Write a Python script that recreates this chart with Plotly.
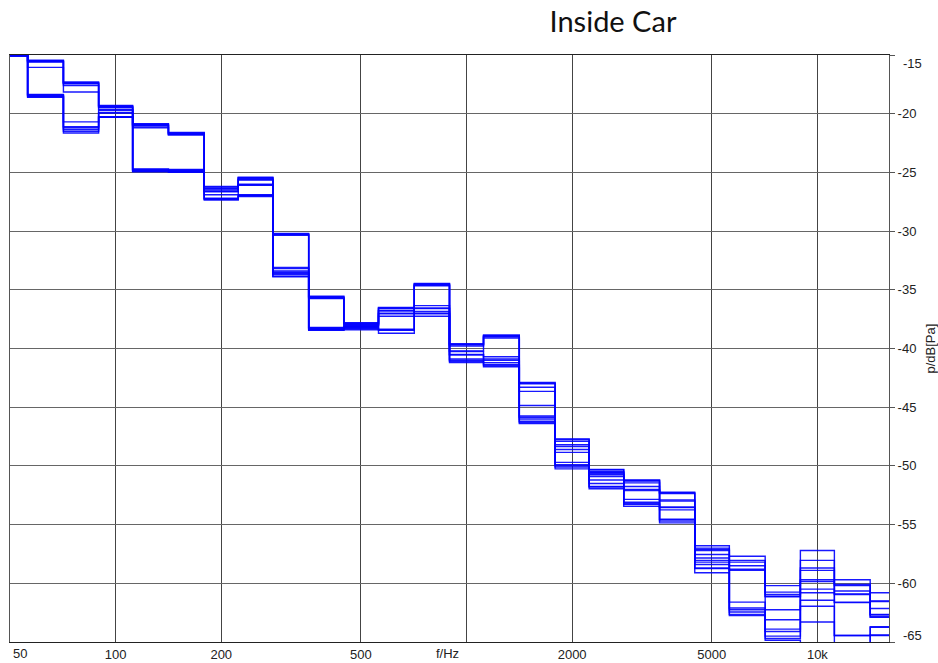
import numpy as np
import plotly.graph_objects as go

# 1/3-octave band centre frequencies (Hz)
bands = [50, 63, 80, 100, 125, 160, 200, 250, 315, 400, 500, 630, 800,
         1000, 1250, 1600, 2000, 2500, 3150, 4000, 5000, 6300, 8000,
         10000, 12500, 16000]

# Band levels in dB re 1 Pa, one value per measurement run (12 runs)
band_50 = [-15.05] * 12
band_63 = [-15.45, -15.5, -15.5, -15.55, -15.6, -16.05, -18.35, -18.4, -18.45, -18.5, -18.55, -18.6]
band_80 = [-17.3, -17.35, -17.4, -17.45, -17.6, -18.15, -20.7, -21.1, -21.2, -21.35, -21.5, -21.65]
band_100 = [-19.3, -19.35, -19.4, -19.45, -19.5, -19.65, -19.7, -19.9, -19.95, -20.25, -20.3, -20.3]
band_125 = [-20.85, -20.9, -20.95, -21.0, -21.05, -21.2, -24.7, -24.75, -24.8, -24.85, -24.9, -24.95]
band_160 = [-21.6, -21.65, -21.7, -21.75, -21.8, -21.8, -24.75, -24.8, -24.85, -24.9, -24.95, -25.0]
band_200 = [-26.2, -26.25, -26.35, -26.4, -26.5, -26.6, -26.65, -26.9, -27.2, -27.25, -27.3, -27.35]
band_250 = [-25.4, -25.45, -25.5, -25.6, -25.65, -26.0, -26.05, -26.1, -26.9, -26.95, -27.0, -27.05]
band_315 = [-30.2, -30.25, -30.3, -30.35, -33.1, -33.2, -33.4, -33.5, -33.6, -33.7, -33.85, -33.9]
band_400 = [-35.55, -35.6, -35.65, -35.7, -35.75, -38.2, -38.25, -38.3, -38.35, -38.4, -38.4, -38.45]
band_500 = [-37.8, -37.85, -37.9, -37.95, -38.0, -38.05, -38.1, -38.15, -38.2, -38.25, -38.3, -38.4]
band_630 = [-36.5, -36.55, -36.6, -36.75, -36.8, -37.0, -37.05, -37.25, -38.35, -38.4, -38.45, -38.7]
band_800 = [-34.45, -34.5, -34.55, -34.6, -34.65, -36.35, -36.55, -36.6, -36.85, -37.0, -37.05, -37.25]
band_1000 = [-39.6, -39.65, -39.7, -39.8, -40.2, -40.25, -40.5, -40.55, -40.9, -41.0, -41.1, -41.2]
band_1250 = [-38.85, -38.9, -38.95, -39.0, -39.1, -40.7, -40.9, -41.0, -41.2, -41.35, -41.45, -41.55]
band_1600 = [-42.9, -42.95, -43.0, -43.3, -43.65, -44.85, -45.75, -45.85, -46.0, -46.2, -46.3, -46.4]
band_2000 = [-47.7, -47.75, -47.9, -48.2, -48.35, -48.6, -48.85, -49.7, -49.9, -50.0, -50.1, -50.25]
band_2500 = [-50.3, -50.35, -50.5, -50.55, -50.65, -50.75, -50.9, -51.2, -51.5, -51.75, -51.8, -51.95]
band_3150 = [-51.2, -51.25, -51.3, -51.45, -51.75, -52.0, -52.1, -52.85, -53.1, -53.2, -53.3, -53.45]
band_4000 = [-52.25, -52.3, -52.35, -52.9, -53.0, -53.5, -53.55, -53.75, -54.55, -54.6, -54.7, -54.85]
band_5000 = [-56.8, -57.0, -57.1, -57.2, -57.55, -57.85, -58.05, -58.2, -58.4, -58.7, -58.75, -59.1]
band_6300 = [-57.7, -58.05, -58.2, -58.5, -58.8, -58.9, -61.6, -62.1, -62.25, -62.45, -62.65, -62.75]
band_8000 = [-60.2, -60.75, -60.95, -61.1, -61.15, -62.25, -63.1, -63.9, -64.1, -64.5, -64.7, -64.85]
band_10000 = [-57.2, -58.05, -58.7, -58.9, -59.7, -59.85, -60.5, -60.8, -61.45, -61.95, -63.3, -65.8]
band_12500 = [-59.7, -60.1, -60.2, -60.65, -60.9, -60.95, -61.6, -61.65, -64.45, -64.45, -65.6, -65.9]
band_16000 = [-60.8, -61.5, -61.55, -62.15, -62.65, -62.7, -62.85, -62.9, -63.7, -63.75, -64.4, -64.45]

band_levels = [band_50, band_63, band_80, band_100, band_125, band_160, band_200,
               band_250, band_315, band_400, band_500, band_630, band_800,
               band_1000, band_1250, band_1600, band_2000, band_2500, band_3150,
               band_4000, band_5000, band_6300, band_8000, band_10000,
               band_12500, band_16000]

x_tick_vals = [100, 200, 500, 1000, 2000, 5000, 10000]
x_tick_text = ["100", "200", "500", "", "2000", "5000", "10k"]
y_tick_vals = [-15, -20, -25, -30, -35, -40, -45, -50, -55, -60, -65]
# the two end labels sit just inside the frame instead of centred on their tick
y_tick_text = ["" if v in (-15, -65) else str(v) for v in y_tick_vals]

runs = np.array(band_levels).T  # shape: (runs, bands)

fig = go.Figure()
for run in runs:
    fig.add_trace(go.Scatter(
        x=bands, y=run, mode="lines", line_shape="hvh",
        line=dict(color="#0000FF", width=1.4),
        opacity=0.9, showlegend=False, hoverinfo="skip",
    ))

tick_font = dict(family="Liberation Sans, Arial, sans-serif", size=13, color="#222222")

end_labels = [
    dict(text=str(v), x=1, xref="paper", xanchor="left", xshift=12,
         y=v, yref="y", yanchor="middle", yshift=(-8 if v == -15 else 7),
         showarrow=False, font=tick_font)
    for v in (y_tick_vals[0], y_tick_vals[-1])
]

fig.update_layout(
    width=938, height=663,
    margin=dict(l=10, r=49, t=55, b=21, autoexpand=False),
    paper_bgcolor="white", plot_bgcolor="white",
    title=dict(text="Inside Car", x=613 / 938, xanchor="center",
               y=1 - 22 / 663, yanchor="middle",
               font=dict(family="Lato, sans-serif", size=29, color="#111111")),
    xaxis=dict(
        type="log", range=[np.log10(50), np.log10(16000)],
        tickvals=x_tick_vals, ticktext=x_tick_text, tickfont=tick_font,
        showgrid=True, gridcolor="#444444", gridwidth=1,
        showline=True, linecolor="#222222", linewidth=1, mirror=True,
        ticks="", zeroline=False, automargin=False,
    ),
    yaxis=dict(
        side="right", range=[-65, -15], tickvals=y_tick_vals, ticktext=y_tick_text,
        tickfont=tick_font, ticks="outside", ticklen=5, tickcolor="#555555",
        showgrid=True, gridcolor="#666666", gridwidth=1,
        showline=True, linecolor="#555555", linewidth=1, mirror=True,
        zeroline=False, automargin=False,
    ),
    annotations=end_labels + [
        dict(text="50", x=np.log10(50), xref="x", xanchor="left", xshift=1,
             y=0, yref="paper", yanchor="top", yshift=-2,
             showarrow=False, font=tick_font),
        dict(text="f/Hz", x=np.log10(1000), xref="x", xanchor="center", xshift=-19,
             y=0, yref="paper", yanchor="top", yshift=-2,
             showarrow=False, font=tick_font),
        dict(text="p/dB[Pa]", x=1, xref="paper", xanchor="center", xshift=41,
             y=0.5, yref="paper", yanchor="middle", textangle=-90,
             showarrow=False, font=tick_font),
    ],
)

fig.write_html("out.html")
